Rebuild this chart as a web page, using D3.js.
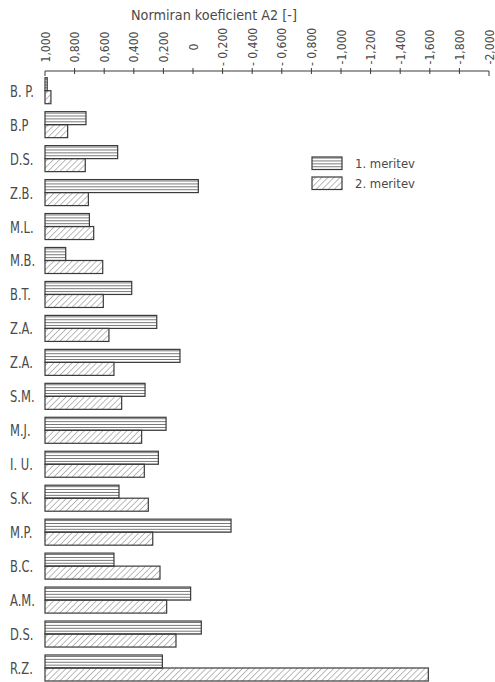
<!DOCTYPE html>
<html><head><meta charset="utf-8">
<script src="https://cdn.jsdelivr.net/npm/d3@7"></script>
<style>html,body{margin:0;padding:0;background:#fff;}svg{display:block;}</style>
</head><body>
<script>
const categories = ["B. P.","B.P","D.S.","Z.B.","M.L.","M.B.","B.T.","Z.A.","Z.A.","S.M.","M.J.","I. U.","S.K.","M.P.","B.C.","A.M.","D.S.","R.Z."];
const meritev1 = [0.985,0.723,0.509,-0.036,0.700,0.860,0.414,0.245,0.088,0.324,0.182,0.234,0.500,-0.257,0.534,0.016,-0.056,0.207];
const meritev2 = [0.960,0.847,0.728,0.707,0.671,0.610,0.606,0.568,0.534,0.482,0.347,0.329,0.302,0.272,0.223,0.178,0.115,-1.590];
const seriesNames = ["1. meritev","2. meritev"];
const tickValues = [1,0.8,0.6,0.4,0.2,0,-0.2,-0.4,-0.6,-0.8,-1.0,-1.2,-1.4,-1.6,-1.8,-2.0];
const tickLabels = ["1,000","0,800","0,600","0,400","0,200","0","- 0,200","- 0,400","- 0,600","- 0,800","-1,000","-1,200","-1,400","-1,600","-1,800","-2,000"];
const axisTitle = "Normiran koeficient A2 [-]";

const W = 495, H = 682;
const ink = "#3a3a3a", txt = "#4a4a4a";
const svg = d3.select("body").append("svg").attr("width", W).attr("height", H);

const defs = svg.append("defs");
const p1 = defs.append("pattern").attr("id","hlines").attr("patternUnits","userSpaceOnUse")
  .attr("width",6).attr("height",2.9);
p1.append("line").attr("x1",0).attr("x2",6).attr("y1",1.45).attr("y2",1.45)
  .attr("stroke","#555").attr("stroke-width",0.8);
const p2 = defs.append("pattern").attr("id","diag").attr("patternUnits","userSpaceOnUse")
  .attr("width",4.3).attr("height",4.3).attr("patternTransform","rotate(45)");
p2.append("line").attr("x1",0).attr("x2",0).attr("y1",0).attr("y2",4.3)
  .attr("stroke","#555").attr("stroke-width",0.8);
const fills = ["url(#hlines)","url(#diag)"];

const x = d3.scaleLinear().domain([1,-2]).range([45,489]);
const y = d3.scaleBand().domain(d3.range(categories.length)).range([77.7,681]).paddingInner(0.234).paddingOuter(0);
const ySub = d3.scaleBand().domain([0,1]).range([0,y.bandwidth()]).padding(0);

// title
svg.append("text").attr("x",131).attr("y",20).attr("fill",txt)
  .attr("font-family","DejaVu Sans Condensed, DejaVu Sans, sans-serif").attr("font-size",14)
  .attr("textLength",166).attr("lengthAdjust","spacingAndGlyphs").text(axisTitle);

// axis
const axY = 71;
const ax = svg.append("g");
ax.append("line").attr("x1",x(1)).attr("x2",x(-2)).attr("y1",axY).attr("y2",axY)
  .attr("stroke",ink).attr("stroke-width",1.1);
ax.selectAll("line.tick").data(tickValues).join("line").attr("class","tick")
  .attr("x1",d=>x(d)).attr("x2",d=>x(d))
  .attr("y1",(d,i)=> (i===0||i===tickValues.length-1)? axY : axY-3)
  .attr("y2",(d,i)=> (i===0||i===tickValues.length-1)? axY+5 : axY+3)
  .attr("stroke",ink).attr("stroke-width",1);
ax.selectAll("text").data(tickValues).join("text")
  .attr("transform",d=>`translate(${x(d)+0.5},47) rotate(-90)`)
  .attr("text-anchor","middle").attr("dominant-baseline","central")
  .attr("fill",txt).attr("font-family","DejaVu Sans Condensed, DejaVu Sans, sans-serif")
  .attr("font-size",12)
  .text((d,i)=>tickLabels[i]);

// bars
const groups = svg.selectAll("g.grp").data(categories).join("g").attr("class","grp")
  .attr("transform",(d,i)=>`translate(0,${y(i)})`);
groups.selectAll("rect").data((d,i)=>[meritev1[i],meritev2[i]]).join("rect")
  .attr("x",x(1)).attr("y",(d,j)=>ySub(j))
  .attr("width",d=>Math.max(0,x(d)-x(1))).attr("height",ySub.bandwidth())
  .attr("fill",(d,j)=>fills[j]).attr("stroke",ink).attr("stroke-width",1.2);

// category labels
groups.append("text")
  .attr("transform",`translate(10,${y.bandwidth()/2+6}) scale(0.72,1)`)
  .attr("fill",txt).attr("font-family","DejaVu Sans, sans-serif").attr("font-size",16)
  .text(d=>d);

// legend
const lg = svg.append("g");
const legY = [157,177];
lg.selectAll("rect").data(seriesNames).join("rect")
  .attr("x",312).attr("y",(d,i)=>legY[i]).attr("width",30).attr("height",12.5)
  .attr("fill",(d,i)=>fills[i]).attr("stroke",ink).attr("stroke-width",1.2);
lg.selectAll("text").data(seriesNames).join("text")
  .attr("x",355).attr("y",(d,i)=>legY[i]+11)
  .attr("fill",txt).attr("font-family","DejaVu Sans Condensed, DejaVu Sans, sans-serif")
  .attr("font-size",13).attr("textLength",60).attr("lengthAdjust","spacingAndGlyphs")
  .text(d=>d);
</script>
</body></html>
